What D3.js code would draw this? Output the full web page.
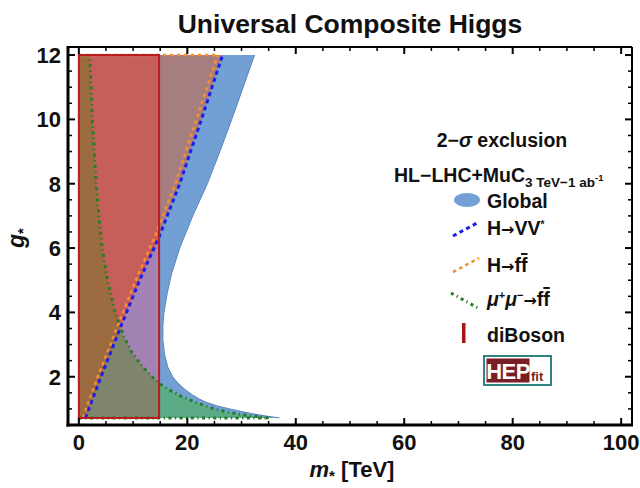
<!DOCTYPE html>
<html><head><meta charset="utf-8">
<script src="https://cdn.jsdelivr.net/npm/d3@7"></script>
<style>body{margin:0;background:#fff} text{font-family:"Liberation Sans",Arial,sans-serif;font-weight:bold;fill:#111} .arr{font-family:"DejaVu Sans",sans-serif;font-weight:bold}</style>
</head><body>
<svg id="c" width="640" height="488"></svg>
<script>
// ---- data (g*, m* [TeV]) ----
const globalG = [0.72,0.78,0.85,0.92,1.0,1.1,1.2,1.3,1.45,1.6,1.8,2.0,2.3,2.7,3.15,3.6,4.0,4.6,5.2,6.0,7.0,8.0,9.0,10.0,11.0,12.0];
const globalM = [37,34.5,32,30,27.8,25.4,23.6,22.3,20.8,19.6,18.3,17.3,16.4,15.8,15.5,15.5,15.7,16.3,17.1,18.6,21,23.7,26.0,28.2,30.3,32.4];
const vvG = [0.72,1.07,2.0,3.46,5.0,6.35,8.0,10.0,12.0];
const vvM = [1.2,2.0,4.1,7.5,11.2,14.8,18.6,22.6,26.5];
const ffG = [0.72,1.07,2.0,3.46,5.0,6.35,8.0,10.0,12.0];
const ffM = [0.8,1.5,3.5,6.9,10.5,14.0,17.8,21.7,25.6];
const mumuG = [0.72,0.8,0.9,1.0,1.2,1.4,1.6,1.8,2.0,2.3,2.8,3.3,4.0,5.0,6.0,7.0,8.0,10.0,12.0];
const mumuM = [35,31,27.5,25,21.6,18.8,16.6,14.8,13.5,11.8,9.6,8.2,6.7,5.3,4.3,3.7,3.2,2.5,2.0];
const dibosonM = [0, 14.8];
const dibosonG = [0.72, 12];
const gRange = [0.72, 12];
const xTicks = [0,20,40,60,80,100];
const yTicks = [2,4,6,8,10,12];
const legendLabels = ["Global","H→VV*","H→ff̄","μ⁺μ⁻→ff̄","diBoson"];

const svg = d3.select("#c");
const L=68,R=632,T=47,B=425;
const x = d3.scaleLinear().domain([-2,102]).range([L,R]);
const y = d3.scaleLinear().domain([0.5,12.25]).range([B,T]);
const line = d3.line().x(d=>x(d[0])).y(d=>y(d[1]));

function region(M,G){ // area m < M(g), g in range
  const pts=[[0,G[0]]];
  G.forEach((g,i)=>pts.push([M[i],g]));
  pts.push([0,G[G.length-1]]);
  return line(pts)+"Z";
}
function curve(M,G){ return line(G.map((g,i)=>[M[i],g])); }

const defs = svg.append("defs");
defs.append("clipPath").attr("id","plot").append("rect").attr("x",L).attr("y",T).attr("width",R-L).attr("height",B-T);
const redPath = line([[dibosonM[0],dibosonG[0]],[dibosonM[1],dibosonG[0]],[dibosonM[1],dibosonG[1]],[dibosonM[0],dibosonG[1]]])+"Z";
defs.append("clipPath").attr("id","cRed").append("path").attr("d",redPath);
defs.append("clipPath").attr("id","cVV").append("path").attr("d",region(vvM,vvG));

const col = {A:"#72a0d5",B:"#a77e7f",C:"#c65e5a",E:"#a383b4",F:"#7e856c",D:"#9c6b40",T:"#5aab86"};

const P = svg.append("g").attr("clip-path","url(#plot)");
P.append("path").attr("d",region(globalM,globalG)).attr("fill",col.A);
P.append("path").attr("d",region(vvM,vvG)).attr("fill",col.B);
P.append("path").attr("d",region(mumuM,mumuG)).attr("fill",col.T);
const RG = P.append("g").attr("clip-path","url(#cRed)");
RG.append("path").attr("d",redPath).attr("fill",col.E);
RG.append("path").attr("d",region(vvM,vvG)).attr("fill",col.C);
RG.append("path").attr("d",region(mumuM,mumuG)).attr("fill",col.F);
RG.append("g").attr("clip-path","url(#cVV)").append("path").attr("d",region(mumuM,mumuG)).attr("fill",col.D);

// boundaries
P.append("path").attr("d",curve(globalM,globalG)).attr("fill","none").attr("stroke","#5a86bb").attr("stroke-width",1);
const greenStyle = s=>s.attr("fill","none").attr("stroke","#267d26").attr("stroke-width",3).attr("stroke-dasharray","3,3.5,1.2,3.5");
greenStyle(P.append("path").attr("d",line([[0,gRange[0]],[mumuM[0],mumuG[0]]])));
greenStyle(P.append("path").attr("d",curve(mumuM,mumuG)));
const orangeStyle = s=>s.attr("fill","none").attr("stroke","#f59032").attr("stroke-width",2.6).attr("stroke-dasharray","3.5,3.5");
orangeStyle(P.append("path").attr("d",line([[0,gRange[1]],[ffM[ffM.length-1],gRange[1]]])));
orangeStyle(P.append("path").attr("d",curve(ffM,ffG)));
P.append("path").attr("d",curve(vvM,vvG)).attr("fill","none").attr("stroke","#1c1cf0").attr("stroke-width",3).attr("stroke-dasharray","4,3.5");
P.append("path").attr("d",redPath).attr("fill","none").attr("stroke","#b81c1c").attr("stroke-width",2);

// frame
const F = svg.append("g");
F.append("line").attr("x1",L).attr("x2",R).attr("y1",T).attr("y2",T).attr("stroke","#000").attr("stroke-width",2);
F.append("line").attr("x1",R).attr("x2",R).attr("y1",T).attr("y2",B).attr("stroke","#000").attr("stroke-width",2);
F.append("line").attr("x1",L).attr("x2",L).attr("y1",T-1).attr("y2",B+1.5).attr("stroke","#000").attr("stroke-width",3);
F.append("line").attr("x1",L-1.5).attr("x2",R+1).attr("y1",B).attr("y2",B).attr("stroke","#000").attr("stroke-width",3);

const xMinor = d3.range(0,101,5), yMinor = d3.range(0.5,12.01,0.5);
xMinor.forEach(v=>{const major=v%20===0, len=major?7:4;
  F.append("line").attr("x1",x(v)).attr("x2",x(v)).attr("y1",B).attr("y2",B-len).attr("stroke","#000").attr("stroke-width",major?2:1.5);
  F.append("line").attr("x1",x(v)).attr("x2",x(v)).attr("y1",T).attr("y2",T+len).attr("stroke","#000").attr("stroke-width",major?2:1.5);
});
yMinor.forEach(v=>{const major=Math.abs(v%2)<1e-9, len=major?7:4;
  F.append("line").attr("y1",y(v)).attr("y2",y(v)).attr("x1",L).attr("x2",L+len).attr("stroke","#000").attr("stroke-width",major?2:1.5);
  F.append("line").attr("y1",y(v)).attr("y2",y(v)).attr("x1",R).attr("x2",R-len).attr("stroke","#000").attr("stroke-width",major?2:1.5);
});
xTicks.forEach(v=>F.append("text").attr("x",x(v)).attr("y",450).attr("text-anchor","middle").style("font-size","22px").text(v));
yTicks.forEach(v=>F.append("text").attr("x",61).attr("y",y(v)+8).attr("text-anchor","end").style("font-size","22px").text(v));

// titles
svg.append("text").attr("x",350).attr("y",33).attr("text-anchor","middle").style("font-size","26.5px").text("Universal Composite Higgs");
const xl = svg.append("text").attr("x",352).attr("y",477).attr("text-anchor","middle").style("font-size","22px");
xl.append("tspan").style("font-style","italic").text("m");
xl.append("tspan").attr("dy",4).style("font-size","15px").text("*");
xl.append("tspan").attr("dy",-4).text(" [TeV]");
const yl = svg.append("text").attr("transform","translate(24,238) rotate(-90)").attr("text-anchor","middle").style("font-size","23px");
yl.append("tspan").style("font-style","italic").text("g");
yl.append("tspan").attr("dy",4).style("font-size","15px").text("*");

// legend
const lg = svg.append("g");
const FS = "19.5px";
const t1 = lg.append("text").attr("x",502).attr("y",147).attr("text-anchor","middle").style("font-size",FS);
t1.append("tspan").text("2−");
t1.append("tspan").style("font-style","italic").text("σ");
t1.append("tspan").text(" exclusion");
const t2 = lg.append("text").attr("x",394).attr("y",182).style("font-size",FS);
t2.append("tspan").text("HL−LHC+MuC");
t2.append("tspan").attr("dy",5).style("font-size","13.5px").text("3 TeV−1 ab");
t2.append("tspan").attr("dy",-6).style("font-size","9.5px").text("-1");

lg.append("ellipse").attr("cx",467).attr("cy",200).attr("rx",13).attr("ry",7).attr("fill",col.A);
lg.append("line").attr("x1",453).attr("y1",236).attr("x2",479).attr("y2",222).attr("stroke","#1c1cf0").attr("stroke-width",3).attr("stroke-dasharray","4,3.5");
lg.append("line").attr("x1",453).attr("y1",272).attr("x2",479).attr("y2",258).attr("stroke","#f59032").attr("stroke-width",2.6).attr("stroke-dasharray","3.5,3.5");
greenStyle(lg.append("line").attr("x1",451).attr("y1",293).attr("x2",478).attr("y2",308));
lg.append("rect").attr("x",462).attr("y",323).attr("width",3.5).attr("height",20).attr("fill","#a51515");

const lx=487;
lg.append("text").attr("x",lx).attr("y",208).style("font-size",FS).text(legendLabels[0]);
const l2 = lg.append("text").attr("x",lx).attr("y",235).style("font-size",FS);
l2.append("tspan").text("H");
l2.append("tspan").attr("class","arr").style("font-size","16px").text("→");
l2.append("tspan").text("VV");
l2.append("tspan").attr("dy",-7).style("font-size","10px").text("*");
const l3 = lg.append("text").attr("x",lx).attr("y",272).style("font-size",FS);
l3.append("tspan").text("H");
l3.append("tspan").attr("class","arr").style("font-size","16px").text("→");
l3.append("tspan").text("f");
l3.append("tspan").style("text-decoration","overline").text("f");
const l4 = lg.append("text").attr("x",lx).attr("y",306).style("font-size",FS);
l4.append("tspan").style("font-style","italic").text("μ");
l4.append("tspan").attr("dy",-7).style("font-size","11px").text("+");
l4.append("tspan").attr("dy",7).style("font-style","italic").text("μ");
l4.append("tspan").attr("dy",-7).style("font-size","11px").text("−");
l4.append("tspan").attr("dy",7).attr("class","arr").style("font-size","16px").text("→");
l4.append("tspan").text("f");
l4.append("tspan").style("text-decoration","overline").text("f");
lg.append("text").attr("x",lx).attr("y",342).style("font-size",FS).text(legendLabels[4]);

// HEPfit logo
const hg = svg.append("g");
hg.append("rect").attr("x",484).attr("y",356).attr("width",67).attr("height",29).attr("fill","#fff").attr("stroke","#2f8580").attr("stroke-width",2);
hg.append("rect").attr("x",486.5).attr("y",358.5).attr("width",43).attr("height",24).attr("fill","#7a1e25");
hg.append("text").attr("x",508).attr("y",379).attr("text-anchor","middle").style("font-size","22px").style("letter-spacing","-0.5px").style("fill","#fff").text("HEP");
hg.append("text").attr("x",531).attr("y",381).style("font-size","13px").style("fill","#7a1e25").text("fit");
</script>
</body></html>
